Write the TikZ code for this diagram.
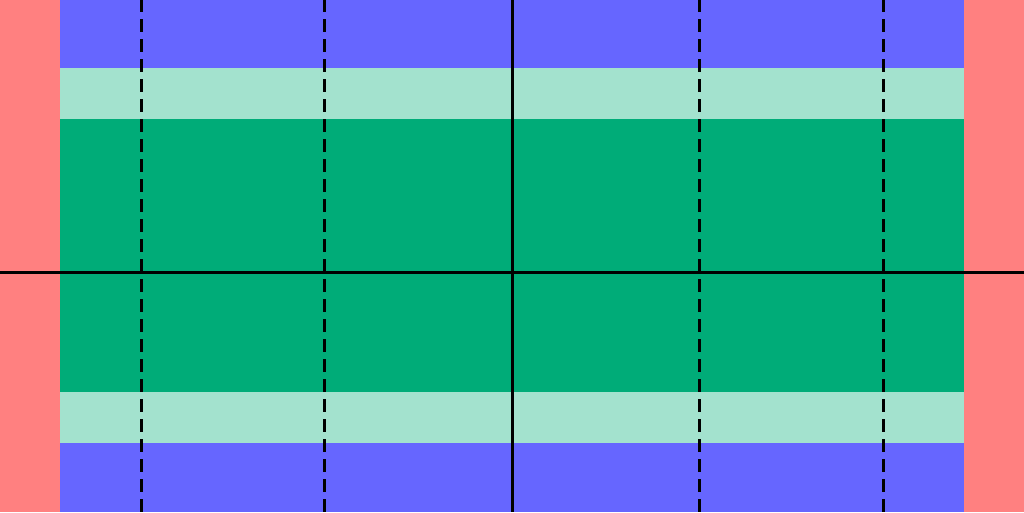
\documentclass[tikz,border=0pt]{standalone}
\definecolor{sidered}{RGB}{255,128,128}
\definecolor{bandblue}{RGB}{102,102,255}
\definecolor{lightgreen}{RGB}{163,226,206}
\definecolor{darkgreen}{RGB}{0,172,120}
\begin{document}
\begin{tikzpicture}[x=1pt,y=-1pt,
  guide/.style={black,line width=3pt},
  dashguide/.style={black,line width=3pt,dash pattern=on 13pt off 7pt,dash phase=1pt}]
\useasboundingbox (0,0) rectangle (1024,512);
\fill[sidered] (0,0) rectangle (60,512);
\fill[sidered] (964,0) rectangle (1024,512);
\fill[bandblue] (60,0) rectangle (964,68);
\fill[lightgreen] (60,68) rectangle (964,119);
\fill[darkgreen] (60,119) rectangle (964,392);
\fill[lightgreen] (60,392) rectangle (964,443);
\fill[bandblue] (60,443) rectangle (964,512);
\foreach \x in {141,324,699,883}
  \draw[dashguide] (\x,0) -- (\x,512);
\draw[guide] (512,0) -- (512,512);
\draw[guide] (0,272.5) -- (1024,272.5);
\end{tikzpicture}
\end{document}
